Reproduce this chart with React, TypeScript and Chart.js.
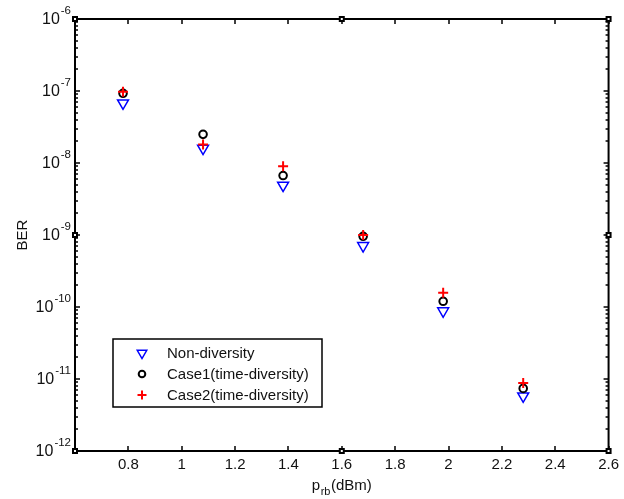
import React, { useEffect, useRef } from 'react';
import { Chart, registerables } from 'chart.js';

Chart.register(...registerables);

// ---- data ----
const xPositions = [0.78, 1.08, 1.38, 1.68, 1.98, 2.28];
const nonDiversity = [6.8e-8, 1.6e-8, 4.9e-9, 7.1e-10, 8.8e-11, 5.8e-12];
const case1 = [9.3e-8, 2.5e-8, 6.7e-9, 9.6e-10, 1.2e-10, 7.4e-12];
const case2 = [9.8e-8, 1.8e-8, 9.0e-9, 1.0e-9, 1.58e-10, 8.8e-12];
const seriesLabels = ['Non-diversity', 'Case1(time-diversity)', 'Case2(time-diversity)'];
const xTickValues = [0.6, 0.8, 1.0, 1.2, 1.4, 1.6, 1.8, 2.0, 2.2, 2.4, 2.6];
const xTickLabels = ['', '0.8', '1', '1.2', '1.4', '1.6', '1.8', '2', '2.2', '2.4', '2.6'];
const yTickExponents = [-12, -11, -10, -9, -8, -7, -6];
const yTickBase = '10';
const yAxisTitle = 'BER';
const xAxisTitleParts = ['p', 'rb', '(dBm)'];

const FONT = '"Liberation Sans", Arial, sans-serif';
const TEXT = '#111';

const framePlugin = {
  id: 'matlabFrame',
  beforeDatasetsDraw(chart: any) {
    const { ctx, chartArea: a, scales } = chart;
    const x = scales.x, y = scales.y;
    ctx.save();
    ctx.strokeStyle = '#000';
    ctx.lineWidth = 2;
    ctx.strokeRect(a.left, a.top, a.right - a.left, a.bottom - a.top);
    ctx.lineWidth = 1.5;
    ctx.beginPath();
    for (const v of xTickValues) {
      const px = Math.round(x.getPixelForValue(v));
      ctx.moveTo(px, a.bottom); ctx.lineTo(px, a.bottom - 5);
      ctx.moveTo(px, a.top); ctx.lineTo(px, a.top + 5);
    }
    for (const e of yTickExponents) {
      for (let m = 1; m <= 9; m++) {
        if (e === yTickExponents[yTickExponents.length - 1] && m > 1) break;
        const py = Math.round(y.getPixelForValue(m * Math.pow(10, e)));
        const len = m === 1 ? 5 : 3;
        ctx.moveTo(a.left, py); ctx.lineTo(a.left + len, py);
        ctx.moveTo(a.right, py); ctx.lineTo(a.right - len, py);
      }
    }
    ctx.stroke();
    const midX = x.getPixelForValue(1.6);
    const midY = y.getPixelForValue(1e-9);
    const pts = [
      [a.left, a.top], [a.right, a.top], [a.left, a.bottom], [a.right, a.bottom],
      [midX, a.top], [midX, a.bottom], [a.left, midY], [a.right, midY],
    ];
    for (const [px, py] of pts) {
      ctx.fillStyle = '#000';
      ctx.fillRect(px - 3, py - 3, 6, 6);
      ctx.fillStyle = '#fff';
      ctx.fillRect(px - 1, py - 1, 2, 2);
    }
    ctx.restore();
  },
};

// y tick labels with real superscript exponents (10^-n)
const yLabelPlugin = {
  id: 'yPowerLabels',
  afterDraw(chart: any) {
    const { ctx, chartArea: a, scales } = chart;
    const y = scales.y;
    ctx.save();
    ctx.fillStyle = TEXT;
    ctx.textBaseline = 'middle';
    ctx.textAlign = 'left';
    const big = `16px ${FONT}`;
    const small = `11.5px ${FONT}`;
    for (const t of y.ticks) {
      const exp = String(Math.round(Math.log10(t.value)));
      const py = y.getPixelForValue(t.value);
      ctx.font = big;
      const wb = ctx.measureText(yTickBase).width;
      ctx.font = small;
      const we = ctx.measureText(exp).width;
      const right = a.left - 4;
      const start = right - we - wb - 1;
      ctx.font = big;
      ctx.fillText(yTickBase, start, py + 1);
      ctx.font = small;
      ctx.fillText(exp, start + wb + 1, py - 8);
    }
    ctx.restore();
  },
};

const xTitlePlugin = {
  id: 'xTitle',
  afterDraw(chart: any) {
    const { ctx, chartArea: a } = chart;
    ctx.save();
    ctx.fillStyle = TEXT;
    ctx.textBaseline = 'alphabetic';
    ctx.textAlign = 'left';
    const big = `15px ${FONT}`;
    const small = `11px ${FONT}`;
    ctx.font = big;
    const w1 = ctx.measureText(xAxisTitleParts[0]).width;
    const w3 = ctx.measureText(xAxisTitleParts[2]).width;
    ctx.font = small;
    const w2 = ctx.measureText(xAxisTitleParts[1]).width;
    const total = w1 + w2 + w3 + 1;
    let cx = (a.left + a.right) / 2 - total / 2;
    const base = 490;
    ctx.font = big;
    ctx.fillText(xAxisTitleParts[0], cx, base);
    cx += w1 + 0.5;
    ctx.font = small;
    ctx.fillText(xAxisTitleParts[1], cx, base + 5);
    cx += w2 + 0.5;
    ctx.font = big;
    ctx.fillText(xAxisTitleParts[2], cx, base);
    ctx.restore();
  },
};

function drawMarker(ctx: CanvasRenderingContext2D, kind: number, x: number, y: number) {
  ctx.beginPath();
  if (kind === 0) {
    const r = 5.5;
    ctx.strokeStyle = '#0000ff';
    ctx.lineWidth = 1.5;
    ctx.moveTo(x - r * 0.866, y - r * 0.5);
    ctx.lineTo(x + r * 0.866, y - r * 0.5);
    ctx.lineTo(x, y + r);
    ctx.closePath();
  } else if (kind === 1) {
    ctx.strokeStyle = '#000';
    ctx.lineWidth = 2;
    ctx.arc(x, y, 3.3, 0, Math.PI * 2);
  } else {
    ctx.strokeStyle = '#ff0000';
    ctx.lineWidth = 2;
    ctx.moveTo(x - 4.5, y); ctx.lineTo(x + 4.5, y);
    ctx.moveTo(x, y - 4.5); ctx.lineTo(x, y + 4.5);
  }
  ctx.stroke();
}

const legendPlugin = {
  id: 'boxLegend',
  afterDraw(chart: any) {
    const { ctx, chartArea: a } = chart;
    const left = a.left + 38;
    const bottom = a.bottom - 44;
    const width = 209;
    const height = 68;
    const top = bottom - height;
    ctx.save();
    ctx.fillStyle = '#fff';
    ctx.fillRect(left, top, width, height);
    ctx.strokeStyle = '#000';
    ctx.lineWidth = 1.5;
    ctx.strokeRect(left, top, width, height);
    ctx.font = `15px ${FONT}`;
    ctx.textBaseline = 'middle';
    ctx.textAlign = 'left';
    chart.data.datasets.forEach((ds: any, i: number) => {
      const cy = top + 14 + i * 21;
      drawMarker(ctx, i, left + 29, cy);
      ctx.fillStyle = TEXT;
      ctx.fillText(ds.label, left + 54, cy + 1);
    });
    ctx.restore();
  },
};

export default function App() {
  const ref = useRef<HTMLCanvasElement | null>(null);
  useEffect(() => {
    if (!ref.current) return;
    const mk = (ys: number[]) => xPositions.map((x, i) => ({ x, y: ys[i] }));
    const chart = new Chart(ref.current, {
      type: 'scatter',
      data: {
        datasets: [
          {
            label: seriesLabels[0], data: mk(nonDiversity), order: 3,
            pointStyle: 'triangle', rotation: 180, radius: 6.3,
            borderColor: '#0000ff', backgroundColor: 'rgba(0,0,0,0)', borderWidth: 1.5,
          },
          {
            label: seriesLabels[1], data: mk(case1), order: 2,
            pointStyle: 'circle', radius: 3.8,
            borderColor: '#000000', backgroundColor: 'rgba(0,0,0,0)', borderWidth: 2,
          },
          {
            label: seriesLabels[2], data: mk(case2), order: 1,
            pointStyle: 'cross', radius: 5,
            borderColor: '#ff0000', backgroundColor: '#ff0000', borderWidth: 2,
          },
        ] as any,
      },
      options: {
        responsive: false,
        animation: false,
        devicePixelRatio: 1,
        layout: { padding: { left: 0, top: 19, right: 11, bottom: 0 } },
        plugins: { legend: { display: false }, tooltip: { enabled: false } },
        scales: {
          x: {
            type: 'linear', min: 0.6, max: 2.6,
            grid: { display: false, drawTicks: false },
            border: { display: false },
            afterBuildTicks: (s: any) => { s.ticks = xTickValues.map((v) => ({ value: v })); },
            afterFit: (s: any) => { s.height = 48; },
            ticks: {
              autoSkip: false, maxRotation: 0, padding: 5, color: TEXT,
              font: { family: FONT, size: 15 },
              callback: (_v: any, i: number) => xTickLabels[i],
            },
          },
          y: {
            type: 'logarithmic', min: 1e-12, max: 1e-6,
            grid: { display: false, drawTicks: false },
            border: { display: false },
            afterBuildTicks: (s: any) => { s.ticks = yTickExponents.map((e) => ({ value: Math.pow(10, e) })); },
            afterFit: (s: any) => { s.width = 75; },
            title: {
              display: true, text: yAxisTitle, color: TEXT,
              font: { family: FONT, size: 15 }, padding: { top: 14, bottom: 0 },
            },
            ticks: {
              autoSkip: false, padding: 5,
              callback: () => '',
            },
          },
        },
      } as any,
      plugins: [framePlugin, yLabelPlugin, xTitlePlugin, legendPlugin],
    });
    return () => chart.destroy();
  }, []);
  return (
    <div style={{ position: 'absolute', left: 0, top: 0, width: 624, height: 499, background: '#fff' }}>
      <canvas ref={ref} width={624} height={499} style={{ width: 624, height: 499, display: 'block' }} />
    </div>
  );
}
